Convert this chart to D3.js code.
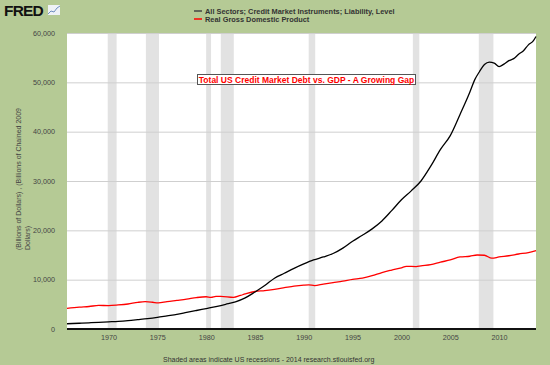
<!DOCTYPE html>
<html>
<head>
<meta charset="utf-8">
<script src="https://cdn.jsdelivr.net/npm/d3@7"></script>
<style>
body { margin: 0; background: #b5ca95; }
svg { display: block; }
text { font-family: "Liberation Sans", Arial, sans-serif; }
</style>
</head>
<body>
<script>
// credit market debt, billions of dollars
var debtYears = [1965.75, 1967, 1968, 1969, 1970, 1971, 1972, 1973, 1974, 1975, 1976, 1977, 1978, 1979,
	1980, 1981, 1982, 1983, 1984, 1985, 1986, 1987, 1988, 1989, 1990, 1991, 1992, 1993, 1994, 1995,
	1996, 1997, 1998, 1999, 2000, 2001, 2002, 2003, 2004, 2005, 2006, 2007, 2007.5, 2008, 2008.5,
	2009, 2009.5, 2010, 2010.5, 2011, 2011.5, 2012, 2012.5, 2013, 2013.5, 2013.78];
var debtValues = [1060, 1170, 1260, 1360, 1460, 1560, 1710, 1900, 2100, 2350, 2650, 2950, 3350, 3750,
	4150, 4550, 5000, 5500, 6300, 7500, 8800, 10300, 11300, 12300, 13200, 14000, 14600, 15300, 16400, 17800,
	19000, 20300, 21900, 24000, 26200, 28000, 30000, 33000, 36400, 39200, 43500, 48000, 50500, 52200, 53600,
	54100, 53900, 53200, 53700, 54400, 54800, 55700, 56400, 57600, 58400, 59300];

// real GDP, billions of chained 2009 dollars
var gdpYears = [1965.75, 1967, 1968, 1969, 1970, 1971, 1972, 1973, 1973.75, 1974.5, 1975.1, 1976, 1977,
	1978, 1979, 1980, 1980.5, 1981, 1981.5, 1982.8, 1983.5, 1984, 1985, 1986, 1987, 1988, 1989, 1990,
	1990.5, 1991.1, 1992, 1993, 1994, 1995, 1996, 1997, 1998, 1999, 2000, 2000.5, 2001.5, 2002, 2003,
	2004, 2005, 2006, 2007, 2007.75, 2008.5, 2009.25, 2010, 2011, 2012, 2013, 2013.78];
var gdpValues = [4200, 4450, 4560, 4780, 4740, 4870, 5070, 5400, 5530, 5420, 5280, 5560, 5800,
	6050, 6370, 6540, 6400, 6600, 6620, 6420, 6800, 7100, 7600, 7780, 8050, 8370, 8700, 8900,
	8950, 8800, 9100, 9400, 9700, 10050, 10300, 10800, 11450, 11950, 12400, 12700, 12650, 12800, 13050,
	13550, 14000, 14600, 14750, 15000, 14950, 14350, 14600, 14850, 15200, 15500, 15900];

var recessions = [[1969.92, 1970.83], [1973.83, 1975.17], [1980.0, 1980.5], [1981.5, 1982.83],
	[1990.5, 1991.17], [2001.17, 2001.83], [2007.92, 2009.42]];

var xTicks = [1970, 1975, 1980, 1985, 1990, 1995, 2000, 2005, 2010];
var yTicks = [0, 10000, 20000, 30000, 40000, 50000, 60000];

var legendLabels = ["All Sectors; Credit Market Instruments; Liability, Level", "Real Gross Domestic Product"];
var legendColors = ["#444", "#ff0000"];

var w = 550;
var h = 365;

var svg = d3.select("body")
			.append("svg")
			.attr("width", w)
			.attr("height", h);

var xScale = d3.scaleLinear()
				.domain([1965.75, 2013.78])
				.range([67, 536]);

var yScale = d3.scaleLinear()
				.domain([0, 60000])
				.range([329, 33]);

// plot background
svg.append("rect")
	.attr("x", xScale.range()[0])
	.attr("y", yScale(60000))
	.attr("width", xScale.range()[1] - xScale.range()[0])
	.attr("height", yScale(0) - yScale(60000))
	.attr("fill", "#fff");

svg.selectAll(".rec")
	.data(recessions)
	.enter()
	.append("rect")
	.attr("class", "rec")
	.attr("x", function(d){ return xScale(d[0]); })
	.attr("width", function(d){ return xScale(d[1]) - xScale(d[0]); })
	.attr("y", yScale(60000))
	.attr("height", yScale(0) - yScale(60000))
	.attr("fill", "#e2e2e2");

// y axis with gridlines
var yAxis = d3.axisLeft(yScale)
				.tickValues(yTicks)
				.tickSize(-(xScale.range()[1] - xScale.range()[0]))
				.tickPadding(12)
				.tickFormat(d3.format(","));

svg.append("g")
	.attr("class", "yaxis")
	.attr("transform", "translate(" + xScale.range()[0] + ",0)")
	.call(yAxis)
	.call(function(g){
		g.select(".domain").remove();
		g.selectAll("line").attr("stroke", "#cfcfcf");
		g.selectAll("text").attr("fill", "#444").attr("font-size", 7.2).attr("font-family", "Liberation Sans, Arial, sans-serif");
	});

var xAxis = d3.axisBottom(xScale)
				.tickValues(xTicks)
				.tickSize(0)
				.tickPadding(6)
				.tickFormat(d3.format("d"));

svg.append("g")
	.attr("class", "xaxis")
	.attr("transform", "translate(0," + yScale(0) + ")")
	.call(xAxis)
	.call(function(g){
		g.select(".domain").remove();
		g.selectAll("text").attr("fill", "#444").attr("font-size", 7.2).attr("font-family", "Liberation Sans, Arial, sans-serif");
	});

var line = d3.line()
			.x(function(d){ return xScale(d[0]); })
			.y(function(d){ return yScale(d[1]); })
			.curve(d3.curveMonotoneX);

svg.append("path")
	.datum(gdpYears.map(function(d, i){ return [d, gdpValues[i]]; }))
	.attr("d", line)
	.attr("fill", "none")
	.attr("stroke", "#ff0000")
	.attr("stroke-width", 1.3);

svg.append("path")
	.datum(debtYears.map(function(d, i){ return [d, debtValues[i]]; }))
	.attr("d", line)
	.attr("fill", "none")
	.attr("stroke", "#000")
	.attr("stroke-width", 1.3);

// bottom axis line
svg.append("line")
	.attr("x1", xScale.range()[0])
	.attr("x2", xScale.range()[1])
	.attr("y1", yScale(0))
	.attr("y2", yScale(0))
	.attr("stroke", "#111")
	.attr("stroke-width", 2);

// y label
var ylab = svg.append("text")
	.attr("transform", "translate(21,250) rotate(-90)")
	.attr("font-size", 7)
	.attr("fill", "#444");
ylab.append("tspan").attr("x", 0).attr("y", 0).text("(Billions of Dollars) , (Billions of Chained 2009");
ylab.append("tspan").attr("x", 0).attr("y", 9).text("Dollars)");

// legend
var legend = svg.selectAll(".legend")
	.data(legendLabels)
	.enter()
	.append("g")
	.attr("class", "legend")
	.attr("transform", function(d, i){ return "translate(194," + (11 + i * 8) + ")"; });

legend.append("line")
	.attr("x1", 0).attr("x2", 8)
	.attr("stroke", function(d, i){ return legendColors[i]; })
	.attr("stroke-width", 1.5);

legend.append("text")
	.attr("x", 11)
	.attr("y", 2.5)
	.attr("font-size", 7.4)
	.attr("font-weight", "bold")
	.attr("fill", "#333")
	.text(function(d){ return d; });

// title box
svg.append("rect")
	.attr("x", 197.5).attr("y", 74.5)
	.attr("width", 218).attr("height", 10)
	.attr("fill", "#fff")
	.attr("stroke", "#555");

svg.append("text")
	.attr("x", 306.5).attr("y", 82.5)
	.attr("text-anchor", "middle")
	.attr("font-size", 8.5)
	.attr("font-weight", "bold")
	.attr("fill", "#ff0000")
	.text("Total US Credit Market Debt vs. GDP - A Growing Gap");

// FRED logo
svg.append("text")
	.attr("x", 4).attr("y", 16)
	.attr("font-size", 15.5)
	.attr("font-weight", "bold")
	.attr("font-family", "DejaVu Sans, sans-serif")
	.attr("letter-spacing", -0.8)
	.attr("fill", "#111")
	.text("FRED");

svg.append("rect")
	.attr("x", 48).attr("y", 5).attr("width", 12).attr("height", 10)
	.attr("fill", "#eef2f6");
svg.append("polyline")
	.attr("points", "48,14 51,11 54,12 57,8 60,6")
	.attr("fill", "none")
	.attr("stroke", "#6f8fbf")
	.attr("stroke-width", 1);

// footer
svg.append("text")
	.attr("x", 163).attr("y", 362)
	.attr("font-size", 7)
	.attr("fill", "#333")
	.text("Shaded areas indicate US recessions - 2014 research.stlouisfed.org");
</script>
</body>
</html>
